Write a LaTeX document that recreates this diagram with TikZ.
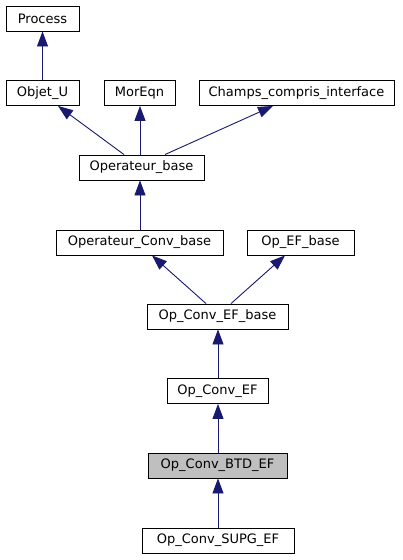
\documentclass[tikz,border=0pt]{standalone}
\usepackage{fontspec}
\setmainfont{DejaVu Sans}
\usetikzlibrary{arrows.meta}
\definecolor{navy}{HTML}{191970}
\definecolor{selgray}{HTML}{BFBFBF}
\begin{document}
\begin{tikzpicture}[x=1pt,y=-1pt,
  cls/.style={draw=black, fill=white, line width=0.9pt, minimum height=25pt,
    inner sep=0pt, font=\fontsize{13}{15}\selectfont},
  sel/.style={cls, fill=selgray},
  inh/.style={draw=navy, line width=0.9pt, -{Triangle[length=15pt,width=11pt]}}]
\useasboundingbox[fill=white] (0,0) rectangle (403,560);
\node[cls, minimum width=73pt]  (process) at (42.5,18.5) {Process};
\node[cls, minimum width=73pt]  (objet)   at (42.5,93) {Objet\_U};
\node[cls, minimum width=71pt]  (moreqn)  at (139.5,93) {MorEqn};
\node[cls, minimum width=195pt] (champs)  at (296.5,93) {Champs\_compris\_interface};
\node[cls, minimum width=125pt] (ob)      at (141.5,167.5) {Operateur\_base};
\node[cls, minimum width=167pt] (ocb)     at (139.5,242.5) {Operateur\_Conv\_base};
\node[cls, minimum width=107pt] (oefb)    at (300.5,242.5) {Op\_EF\_base};
\node[cls, minimum width=141pt] (oceb)    at (217.5,316.5) {Op\_Conv\_EF\_base};
\node[cls, minimum width=101pt] (oce)     at (217.5,391) {Op\_Conv\_EF};
\node[sel, minimum width=139pt] (btd)     at (217.5,465.5) {Op\_Conv\_BTD\_EF};
\node[cls, minimum width=152pt] (supg)    at (218,540.5) {Op\_Conv\_SUPG\_EF};

\draw[inh] (objet.north) -- (process.south);
\draw[inh] ([xshift=-17.5pt]ob.north) -- ([xshift=15.5pt]objet.south);
\draw[inh] ([xshift=-1.5pt]ob.north) -- ([xshift=0.5pt]moreqn.south);
\draw[inh] ([xshift=23.5pt]ob.north) -- ([xshift=-23.5pt]champs.south);
\draw[inh] ([xshift=0.5pt]ocb.north) -- ([xshift=-1.5pt]ob.south);
\draw[inh] ([xshift=-11.5pt]oceb.north) -- ([xshift=12.5pt]ocb.south);
\draw[inh] ([xshift=13.5pt]oceb.north) -- ([xshift=-15.5pt]oefb.south);
\draw[inh] ([xshift=0.5pt]oce.north) -- ([xshift=0.5pt]oceb.south);
\draw[inh] ([xshift=0.5pt]btd.north) -- ([xshift=0.5pt]oce.south);
\draw[inh] (supg.north) -- ([xshift=0.5pt]btd.south);
\end{tikzpicture}
\end{document}
